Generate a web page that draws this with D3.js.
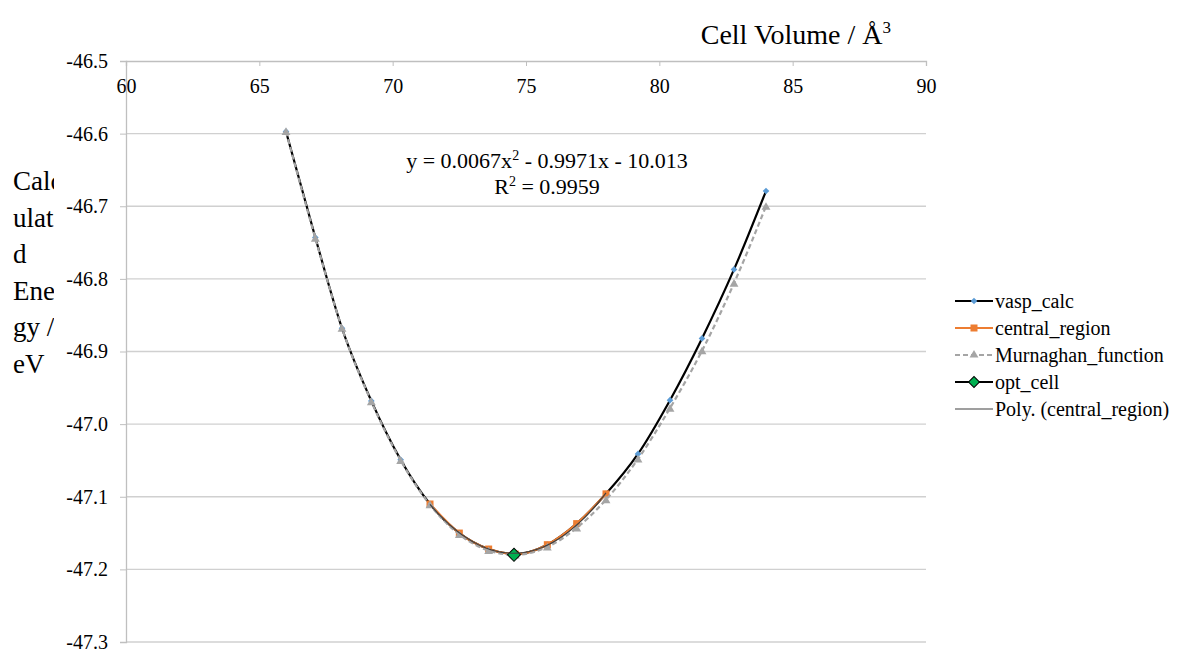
<!DOCTYPE html>
<html>
<head>
<meta charset="utf-8">
<script src="https://cdn.jsdelivr.net/npm/d3@7"></script>
<style>
  html, body { margin: 0; padding: 0; background: #fff; }
  svg text { font-family: "Liberation Serif", "Times New Roman", Times, "DejaVu Serif", serif !important; fill: #000; }
</style>
</head>
<body>
<svg id="chart" width="1177" height="650" font-family="Liberation Serif, Times New Roman, serif"></svg>
<script>
'use strict';

// cell volumes (A^3) shared by vasp_calc and Murnaghan_function
var volume = [66.0, 67.1, 68.1, 69.2, 70.3, 71.4, 72.5, 73.6, 74.6, 75.8, 76.9, 78.0, 79.2, 80.4, 81.6, 82.8, 84.0];
var vaspEnergy = [-46.597, -46.743, -46.868, -46.968, -47.049, -47.110, -47.150, -47.172, -47.179,
                  -47.166, -47.137, -47.096, -47.041, -46.967, -46.882, -46.787, -46.679];
var murnaghanEnergy = [-46.597, -46.744, -46.868, -46.969, -47.050, -47.111, -47.152, -47.174, -47.180,
                       -47.169, -47.143, -47.104, -47.048, -46.978, -46.899, -46.806, -46.700];
var centralVolume = [71.4, 72.5, 73.6, 74.6, 75.8, 76.9, 78.0];
var centralEnergy = [-47.110, -47.150, -47.172, -47.179, -47.166, -47.137, -47.096];
var optVolume = [74.55];
var optEnergy = [-47.180];

var xTicks = [60, 65, 70, 75, 80, 85, 90];
var yTicks = [-46.5, -46.6, -46.7, -46.8, -46.9, -47.0, -47.1, -47.2, -47.3];
var legendNames = ['vasp_calc', 'central_region', 'Murnaghan_function', 'opt_cell', 'Poly. (central_region)'];
var yTitleLines = ['Calc', 'ulate', 'd', 'Ener', 'gy /', 'eV'];

var svg = d3.select('#chart');

var x = d3.scaleLinear().domain([60, 90]).range([126, 926]);
var y = d3.scaleLinear().domain([-46.5, -47.3]).range([61, 642]);

function pairs(xs, ys) {
  return xs.map(function(v, i) { return [v, ys[i]]; });
}

// diamond marker = square turned 45 degrees
function diamond(size) {
  return d3.symbol().type(d3.symbolSquare).size(size)();
}

// gridlines
svg.append('g')
  .selectAll('line')
  .data(yTicks.slice(1))
  .enter().append('line')
  .attr('x1', x(60)).attr('x2', x(90))
  .attr('y1', function(d) { return y(d); })
  .attr('y2', function(d) { return y(d); })
  .attr('stroke', '#d0d0d0').attr('stroke-width', 1.3);

// x axis on top (energies are negative, axis crosses at -46.5)
var xAxis = svg.append('g')
  .attr('transform', 'translate(0,' + y(-46.5) + ')')
  .call(d3.axisBottom(x).tickValues(xTicks).tickSize(5).tickPadding(8).tickFormat(d3.format('d')));
xAxis.attr('font-family', null);
xAxis.select('.domain').attr('stroke', '#bfbfbf').attr('stroke-width', 1.3);
xAxis.selectAll('.tick line').attr('stroke', '#bfbfbf');
xAxis.selectAll('.tick text').attr('font-size', 20).attr('dy', '0.95em');

var yAxis = svg.append('g')
  .attr('transform', 'translate(' + x(60) + ',0)')
  .call(d3.axisLeft(y).tickValues(yTicks).tickSize(6).tickPadding(12).tickFormat(d3.format('.1f')));
yAxis.attr('font-family', null);
yAxis.select('.domain').attr('stroke', '#bfbfbf').attr('stroke-width', 1.3);
yAxis.selectAll('.tick line').attr('stroke', '#bfbfbf');
yAxis.selectAll('.tick text').attr('font-size', 20)
  .text(function(d) { return d3.format('.1f')(d).replace('−', '-'); });

// axis titles
svg.append('text')
  .attr('x', 891).attr('y', 44)
  .attr('text-anchor', 'end')
  .attr('font-size', 28)
  .text('Cell Volume / Å')
  .append('tspan').attr('font-size', 17).attr('dy', -11).text('3');

svg.append('clipPath').attr('id', 'ytitle-clip')
  .append('rect').attr('x', 0).attr('y', 140).attr('width', 54).attr('height', 260);

svg.append('text')
  .attr('clip-path', 'url(#ytitle-clip)')
  .attr('font-size', 27)
  .selectAll('tspan')
  .data(yTitleLines)
  .enter().append('tspan')
  .attr('x', 13)
  .attr('y', function(d, i) { return 190 + i * 36.6; })
  .text(function(d) { return d; });

// series
var smooth = d3.line()
  .x(function(d) { return x(d[0]); })
  .y(function(d) { return y(d[1]); })
  .curve(d3.curveMonotoneX);

var vasp = pairs(volume, vaspEnergy);
var central = pairs(centralVolume, centralEnergy);
var murn = pairs(volume, murnaghanEnergy);
var opt = pairs(optVolume, optEnergy);

var colors = { vasp: '#000000', vaspMark: '#5b9bd5', central: '#ed7d31', murn: '#a5a5a5', opt: '#00b050', poly: '#404040' };

svg.append('path').datum(vasp)
  .attr('d', smooth).attr('fill', 'none')
  .attr('stroke', colors.vasp).attr('stroke-width', 2.2);
svg.append('g').selectAll('path').data(vasp).enter().append('path')
  .attr('transform', function(d) { return 'translate(' + x(d[0]) + ',' + y(d[1]) + ') rotate(45)'; })
  .attr('d', diamond(22))
  .attr('fill', colors.vaspMark);

svg.append('path').datum(central)
  .attr('d', smooth).attr('fill', 'none')
  .attr('stroke', colors.central).attr('stroke-width', 2.2);
svg.append('g').selectAll('rect').data(central).enter().append('rect')
  .attr('x', function(d) { return x(d[0]) - 3.5; })
  .attr('y', function(d) { return y(d[1]) - 3.5; })
  .attr('width', 7).attr('height', 7)
  .attr('fill', colors.central);

svg.append('path').datum(murn)
  .attr('d', smooth).attr('fill', 'none')
  .attr('stroke', colors.murn).attr('stroke-width', 2.2)
  .attr('stroke-dasharray', '5,3');
svg.append('g').selectAll('path').data(murn).enter().append('path')
  .attr('transform', function(d) { return 'translate(' + x(d[0]) + ',' + (y(d[1]) + 1) + ')'; })
  .attr('d', d3.symbol().type(d3.symbolTriangle).size(34))
  .attr('fill', colors.murn);

svg.append('g').selectAll('path').data(opt).enter().append('path')
  .attr('transform', function(d) { return 'translate(' + x(d[0]) + ',' + y(d[1]) + ') rotate(45)'; })
  .attr('d', diamond(85))
  .attr('fill', colors.opt).attr('stroke', '#000').attr('stroke-width', 1);

// quadratic least-squares trendline over central_region
function quadFit(xs, ys) {
  var s = [0, 0, 0, 0, 0], t = [0, 0, 0];
  xs.forEach(function(v, i) {
    var p = 1;
    for (var k = 0; k < 5; k++) { s[k] += p; if (k < 3) t[k] += p * ys[i]; p *= v; }
  });
  var m = [[s[0], s[1], s[2], t[0]], [s[1], s[2], s[3], t[1]], [s[2], s[3], s[4], t[2]]];
  for (var c = 0; c < 3; c++) {
    for (var r = c + 1; r < 3; r++) {
      var f = m[r][c] / m[c][c];
      for (var q = c; q < 4; q++) m[r][q] -= f * m[c][q];
    }
  }
  var a = [0, 0, 0];
  for (var r2 = 2; r2 >= 0; r2--) {
    var sum = m[r2][3];
    for (var q2 = r2 + 1; q2 < 3; q2++) sum -= m[r2][q2] * a[q2];
    a[r2] = sum / m[r2][r2];
  }
  return a;
}
var coef = quadFit(centralVolume, centralEnergy);
var polyX = d3.range(centralVolume[0], centralVolume[centralVolume.length - 1] + 0.001, 0.1);
var poly = polyX.map(function(v) { return [v, coef[0] + coef[1] * v + coef[2] * v * v]; });
svg.append('path').datum(poly)
  .attr('d', d3.line().x(function(d) { return x(d[0]); }).y(function(d) { return y(d[1]); }))
  .attr('fill', 'none').attr('stroke', colors.poly).attr('stroke-width', 1.2);

// trendline label
var eq = svg.append('g').attr('font-size', 22).attr('text-anchor', 'middle');
var eq1 = eq.append('text').attr('x', 547).attr('y', 168);
eq1.append('tspan').text('y = 0.0067x');
eq1.append('tspan').attr('font-size', 14).attr('dy', -8).text('2');
eq1.append('tspan').attr('dy', 8).text(' - 0.9971x - 10.013');
var eq2 = eq.append('text').attr('x', 547).attr('y', 194);
eq2.append('tspan').text('R');
eq2.append('tspan').attr('font-size', 14).attr('dy', -8).text('2');
eq2.append('tspan').attr('dy', 8).text(' = 0.9959');

// legend
var legend = svg.append('g').attr('transform', 'translate(955,301)');
var item = legend.selectAll('g').data(legendNames).enter().append('g')
  .attr('transform', function(d, i) { return 'translate(0,' + i * 27 + ')'; });
item.append('text').attr('x', 40).attr('dy', '0.35em').attr('font-size', 20).text(function(d) { return d; });

var l0 = legend.select('g:nth-child(1)');
l0.append('line').attr('x1', 0).attr('x2', 38).attr('stroke', colors.vasp).attr('stroke-width', 2.2);
l0.append('path').attr('transform', 'translate(19,0) rotate(45)').attr('d', diamond(22)).attr('fill', colors.vaspMark);
var l1 = legend.select('g:nth-child(2)');
l1.append('line').attr('x1', 0).attr('x2', 38).attr('stroke', colors.central).attr('stroke-width', 2.2);
l1.append('rect').attr('x', 15.5).attr('y', -3.5).attr('width', 7).attr('height', 7).attr('fill', colors.central);
var l2 = legend.select('g:nth-child(3)');
l2.append('line').attr('x1', 0).attr('x2', 38).attr('stroke', colors.murn).attr('stroke-width', 2.2).attr('stroke-dasharray', '5,3');
l2.append('path').attr('transform', 'translate(19,0)').attr('d', d3.symbol().type(d3.symbolTriangle).size(34)).attr('fill', colors.murn);
var l3 = legend.select('g:nth-child(4)');
l3.append('line').attr('x1', 0).attr('x2', 38).attr('stroke', '#000').attr('stroke-width', 2.2);
l3.append('path').attr('transform', 'translate(19,0) rotate(45)').attr('d', diamond(60)).attr('fill', colors.opt).attr('stroke', '#000');
var l4 = legend.select('g:nth-child(5)');
l4.append('line').attr('x1', 0).attr('x2', 38).attr('stroke', colors.poly).attr('stroke-width', 1.2);
</script>
</body>
</html>
